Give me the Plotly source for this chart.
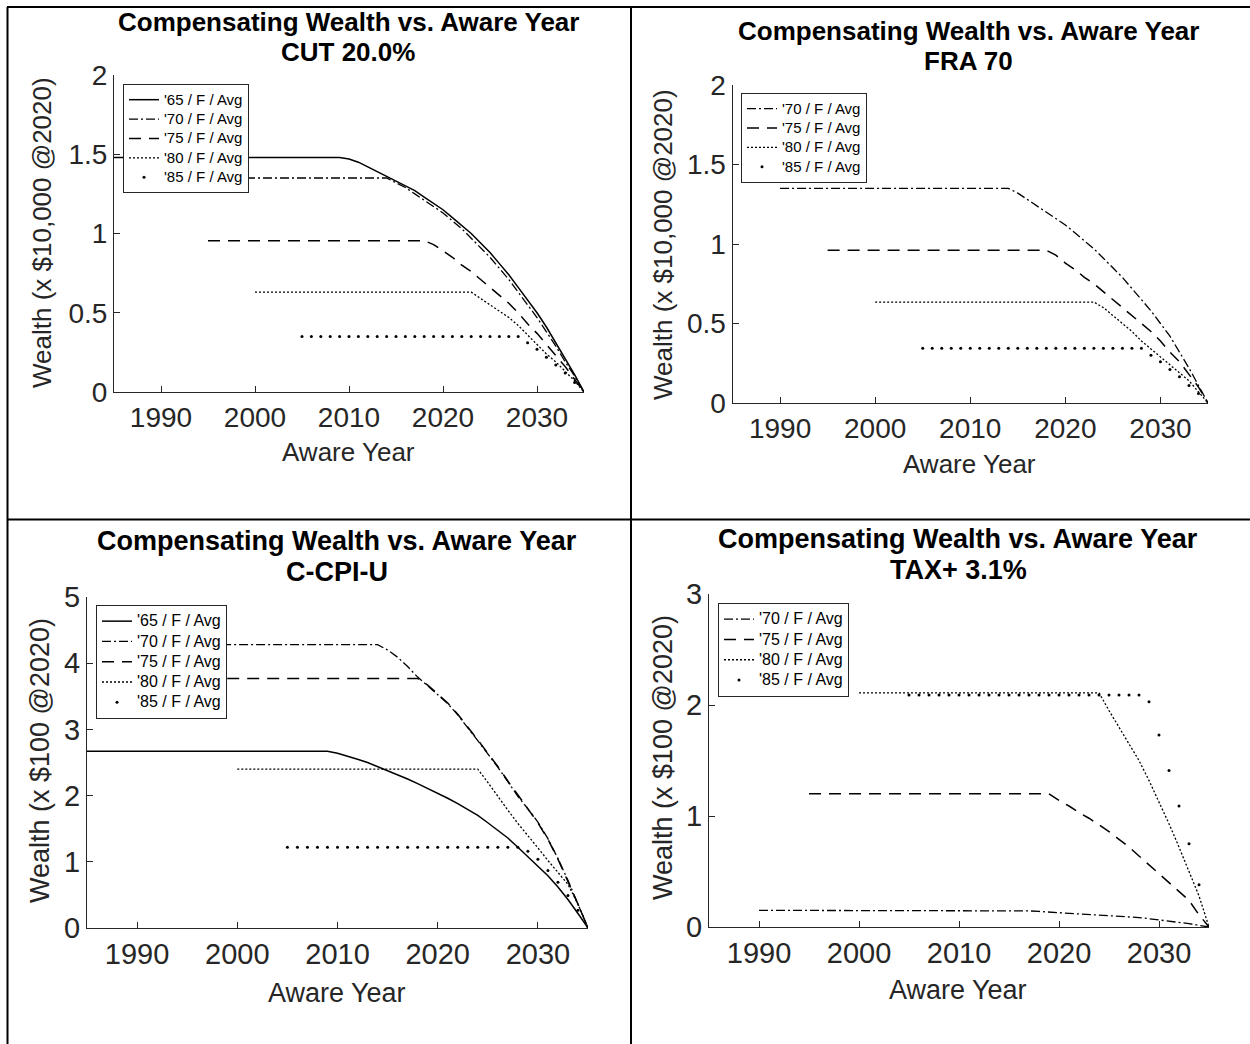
import plotly.graph_objects as go

W, H = 1250, 1044

# ---------------- data ----------------
# Panel 1: CUT 20.0%
cut_65_start = 1985
cut_65_vals = [1.48] * 25 + [1.47, 1.45, 1.42, 1.39, 1.36, 1.33, 1.30, 1.27, 1.23, 1.19, 1.15, 1.10, 1.05,
                             1.00, 0.94, 0.88, 0.81, 0.74, 0.66, 0.58, 0.50, 0.41, 0.31, 0.21, 0.11, 0.0]
cut_70_start = 1990
cut_70_vals = [1.35] * 25 + [1.32, 1.29, 1.25, 1.21, 1.17, 1.13, 1.08, 1.03, 0.97, 0.91, 0.85, 0.78, 0.71,
                             0.63, 0.55, 0.47, 0.38, 0.29, 0.19, 0.10, 0.0]
cut_75_start = 1995
cut_75_vals = [0.955] * 24 + [0.93, 0.89, 0.85, 0.80, 0.76, 0.71, 0.66, 0.61, 0.56, 0.50, 0.43, 0.37, 0.30,
                              0.23, 0.16, 0.08, 0.0]
cut_80_start = 2000
cut_80_vals = [0.63] * 24 + [0.59, 0.55, 0.51, 0.47, 0.42, 0.36, 0.30, 0.24, 0.19, 0.13, 0.07, 0.0]
cut_85_start = 2005
cut_85_vals = [0.35] * 24 + [0.31, 0.27, 0.22, 0.17, 0.12, 0.06, 0.0]

# Panel 2: FRA 70
fra_70_start = 1990
fra_70_vals = [1.35] * 25 + [1.32, 1.28, 1.24, 1.20, 1.16, 1.12, 1.07, 1.02, 0.97, 0.91, 0.85, 0.79, 0.72,
                             0.65, 0.58, 0.50, 0.42, 0.32, 0.22, 0.11, 0.0]
fra_75_start = 1995
fra_75_vals = [0.96] * 24 + [0.93, 0.88, 0.84, 0.79, 0.75, 0.70, 0.65, 0.60, 0.55, 0.50, 0.45, 0.39, 0.32,
                             0.26, 0.18, 0.10, 0.0]
fra_80_start = 2000
fra_80_vals = [0.635] * 24 + [0.60, 0.55, 0.50, 0.45, 0.39, 0.34, 0.29, 0.24, 0.19, 0.14, 0.07, 0.0]
fra_85_start = 2005
fra_85_vals = [0.345] * 24 + [0.30, 0.26, 0.21, 0.165, 0.11, 0.06, 0.0]

# Panel 3: C-CPI-U
cpi_65_start = 1985
cpi_65_vals = [2.67] * 25 + [2.64, 2.60, 2.55, 2.50, 2.44, 2.38, 2.32, 2.25, 2.18, 2.11, 2.04, 1.96, 1.88,
                             1.79, 1.70, 1.59, 1.47, 1.36, 1.22, 1.08, 0.94, 0.79, 0.62, 0.43, 0.22, 0.0]
cpi_70_start = 1990
cpi_70_vals = [4.28] * 25 + [4.20, 4.09, 3.95, 3.79, 3.66, 3.53, 3.39, 3.22, 3.03, 2.83, 2.63, 2.43, 2.21,
                             1.99, 1.80, 1.60, 1.35, 1.05, 0.72, 0.37, 0.0]
cpi_75_start = 1995
cpi_75_vals = [3.77] * 24 + [3.67, 3.54, 3.40, 3.23, 3.04, 2.84, 2.64, 2.44, 2.22, 2.00, 1.80, 1.59, 1.34,
                             1.04, 0.71, 0.36, 0.0]
cpi_80_start = 2000
cpi_80_vals = [2.40] * 25 + [2.20, 1.98, 1.78, 1.58, 1.40, 1.21, 1.02, 0.84, 0.66, 0.36, 0.0]
cpi_85_start = 2005
cpi_85_vals = [1.22] * 24 + [1.16, 1.04, 0.87, 0.69, 0.49, 0.27, 0.0]

# Panel 4: TAX+ 3.1%
tax_70_start = 1990
tax_70_vals = [0.15] * 26 + [0.148, 0.145, 0.14, 0.135, 0.13, 0.125, 0.12, 0.115, 0.11, 0.105, 0.10, 0.09,
                             0.085, 0.075, 0.065, 0.055, 0.045, 0.03, 0.015, 0.0]
tax_75_start = 1995
tax_75_vals = [1.20] * 25 + [1.14, 1.09, 1.03, 0.98, 0.92, 0.86, 0.79, 0.72, 0.64, 0.56, 0.48, 0.40, 0.32,
                             0.24, 0.11, 0.0]
tax_80_start = 2000
tax_80_vals = [2.11] * 25 + [1.95, 1.80, 1.65, 1.50, 1.32, 1.13, 0.93, 0.72, 0.50, 0.28, 0.0]
tax_85_start = 2005
tax_85_vals = [2.09] * 24 + [2.03, 1.73, 1.41, 1.09, 0.75, 0.38, 0.0]

series_names = ["'65 / F / Avg", "'70 / F / Avg", "'75 / F / Avg", "'80 / F / Avg", "'85 / F / Avg"]
x_ticks = [1990, 2000, 2010, 2020, 2030]
x_range = [1985, 2035]

titles = [("Compensating Wealth vs. Aware Year", "CUT 20.0%"),
          ("Compensating Wealth vs. Aware Year", "FRA 70"),
          ("Compensating Wealth vs. Aware Year", "C-CPI-U"),
          ("Compensating Wealth vs. Aware Year", "TAX+ 3.1%")]
y_titles = ["Wealth (x $10,000 @2020)", "Wealth (x $10,000 @2020)",
            "Wealth (x $100 @2020)", "Wealth (x $100 @2020)"]
y_ticks_p1 = [0, 0.5, 1, 1.5, 2]
y_ticktext_p1 = ["0", "0.5", "1", "1.5", "2"]
y_ticks_p3 = [0, 1, 2, 3, 4, 5]
y_ticks_p4 = [0, 1, 2, 3]

# ---------------- layout helpers ----------------
FONT = "Liberation Sans, Arial, sans-serif"
INK = "#262626"

def px_x(p):
    return p / W

def px_y(p):
    return 1 - p / H

styles = {
    "'65": dict(mode="lines", line=dict(color="black", width=1.5, dash="solid")),
    "'70": dict(mode="lines", line=dict(color="black", width=1.3, dash="9px,3px,2px,3px")),
    "'75": dict(mode="lines", line=dict(color="black", width=1.5, dash="12px,8px")),
    "'80": dict(mode="lines", line=dict(color="black", width=1.3, dash="2px,2px")),
    "'85": dict(mode="markers", marker=dict(color="black", size=3, symbol="circle")),
}

panels = [
    dict(series=[("'65", cut_65_start, cut_65_vals), ("'70", cut_70_start, cut_70_vals),
                 ("'75", cut_75_start, cut_75_vals), ("'80", cut_80_start, cut_80_vals),
                 ("'85", cut_85_start, cut_85_vals)],
         box=(114, 584, 75, 392), yrange=[0, 2], yt=y_ticks_p1, ytt=y_ticktext_p1,
         tickfs=28, labfs=26, titfs=26, legfs=12.6, legtext=15, leg=(123, 84),
         title_xy=(348, 22, 52), xlab_xy=(348, 452), ylab_xy=(42, 233)),
    dict(series=[("'70", fra_70_start, fra_70_vals), ("'75", fra_75_start, fra_75_vals),
                 ("'80", fra_80_start, fra_80_vals), ("'85", fra_85_start, fra_85_vals)],
         box=(732.5, 1208, 85, 403), yrange=[0, 2], yt=y_ticks_p1, ytt=y_ticktext_p1,
         tickfs=28, labfs=26, titfs=26, legfs=12.6, legtext=15, leg=(741, 93),
         title_xy=(968, 31, 61), xlab_xy=(969, 464), ylab_xy=(663, 245)),
    dict(series=[("'65", cpi_65_start, cpi_65_vals), ("'70", cpi_70_start, cpi_70_vals),
                 ("'75", cpi_75_start, cpi_75_vals), ("'80", cpi_80_start, cpi_80_vals),
                 ("'85", cpi_85_start, cpi_85_vals)],
         box=(87, 588, 597, 928), yrange=[0, 5], yt=y_ticks_p3, ytt=[str(v) for v in y_ticks_p3],
         tickfs=29, labfs=27, titfs=27, legfs=13.3, legtext=16, leg=(96, 605),
         title_xy=(337, 541, 572), xlab_xy=(337, 993), ylab_xy=(40, 761)),
    dict(series=[("'70", tax_70_start, tax_70_vals), ("'75", tax_75_start, tax_75_vals),
                 ("'80", tax_80_start, tax_80_vals), ("'85", tax_85_start, tax_85_vals)],
         box=(709, 1209, 594, 927), yrange=[0, 3], yt=y_ticks_p4, ytt=[str(v) for v in y_ticks_p4],
         tickfs=29, labfs=27, titfs=27, legfs=13.3, legtext=16, leg=(718, 603),
         title_xy=(958, 539, 570), xlab_xy=(958, 990), ylab_xy=(663, 758)),
]

fig = go.Figure()
layout = dict(width=W, height=H, autosize=False,
              margin=dict(l=0, r=0, t=0, b=0, pad=0, autoexpand=False),
              paper_bgcolor="white", plot_bgcolor="white", showlegend=True,
              font=dict(family=FONT, color=INK))
annotations = []

for i, p in enumerate(panels, start=1):
    sfx = "" if i == 1 else str(i)
    xa, ya = "x" + sfx, "y" + sfx
    leg = "legend" if i == 1 else "legend" + str(i)
    for key, start, vals in p["series"]:
        name = series_names[["'65", "'70", "'75", "'80", "'85"].index(key)]
        label = "<span style='font-size:%gpx'>%s</span>" % (p["legtext"], name)
        yrs = list(range(start, start + len(vals)))
        fig.add_trace(go.Scatter(x=yrs, y=vals, name=label, xaxis=xa, yaxis=ya, legend=leg,
                                 hoverinfo="skip", **styles[key]))
    x0, x1, yt0, yb = p["box"]
    axis_common = dict(showgrid=False, zeroline=False, showline=True, linecolor=INK, linewidth=1,
                       ticks="inside", ticklen=6, tickwidth=1, tickcolor=INK, mirror=False,
                       automargin=False,
                       tickfont=dict(family=FONT, size=p["tickfs"], color=INK))
    layout["xaxis" + sfx] = dict(domain=[px_x(x0), px_x(x1)], range=x_range, anchor=ya,
                                 tickvals=x_ticks, ticktext=[str(t) for t in x_ticks], **axis_common)
    layout["yaxis" + sfx] = dict(domain=[px_y(yb), px_y(yt0)], range=p["yrange"], anchor=xa,
                                 tickvals=p["yt"], ticktext=p["ytt"], **axis_common)
    lx, ly = p["leg"]
    layout[leg] = dict(x=px_x(lx), y=px_y(ly), xanchor="left", yanchor="top", xref="paper", yref="paper",
                       bgcolor="white", bordercolor=INK, borderwidth=1, tracegroupgap=0,
                       itemwidth=30, font=dict(family=FONT, size=p["legfs"], color="black"))
    tx, ty1, ty2 = p["title_xy"]
    t1, t2 = titles[i - 1]
    for txt, ty in ((t1, ty1), (t2, ty2)):
        annotations.append(dict(text="<b>" + txt + "</b>", x=px_x(tx), y=px_y(ty), xref="paper", yref="paper",
                                xanchor="center", yanchor="middle", showarrow=False,
                                font=dict(family=FONT, size=p["titfs"], color="black")))
    xlx, xly = p["xlab_xy"]
    annotations.append(dict(text="Aware Year", x=px_x(xlx), y=px_y(xly), xref="paper", yref="paper",
                            xanchor="center", yanchor="middle", showarrow=False,
                            font=dict(family=FONT, size=p["labfs"], color=INK)))
    ylx, yly = p["ylab_xy"]
    annotations.append(dict(text=y_titles[i - 1], x=px_x(ylx), y=px_y(yly), xref="paper", yref="paper",
                            xanchor="center", yanchor="middle", showarrow=False, textangle=-90,
                            font=dict(family=FONT, size=p["labfs"], color=INK)))

layout["annotations"] = annotations
line_style = dict(color="black", width=2)
layout["shapes"] = [
    dict(type="line", xref="paper", yref="paper", x0=px_x(7), x1=1, y0=px_y(7), y1=px_y(7), line=line_style),
    dict(type="line", xref="paper", yref="paper", x0=px_x(7.5), x1=px_x(7.5), y0=px_y(7), y1=0, line=line_style),
    dict(type="line", xref="paper", yref="paper", x0=px_x(631), x1=px_x(631), y0=px_y(7), y1=0, line=line_style),
    dict(type="line", xref="paper", yref="paper", x0=px_x(7), x1=1, y0=px_y(519.5), y1=px_y(519.5), line=line_style),
]
fig.update_layout(**layout)

fig.write_html("out.html", config={"displayModeBar": False},
               post_script="document.body.style.margin='0';document.body.style.overflow='hidden';")
